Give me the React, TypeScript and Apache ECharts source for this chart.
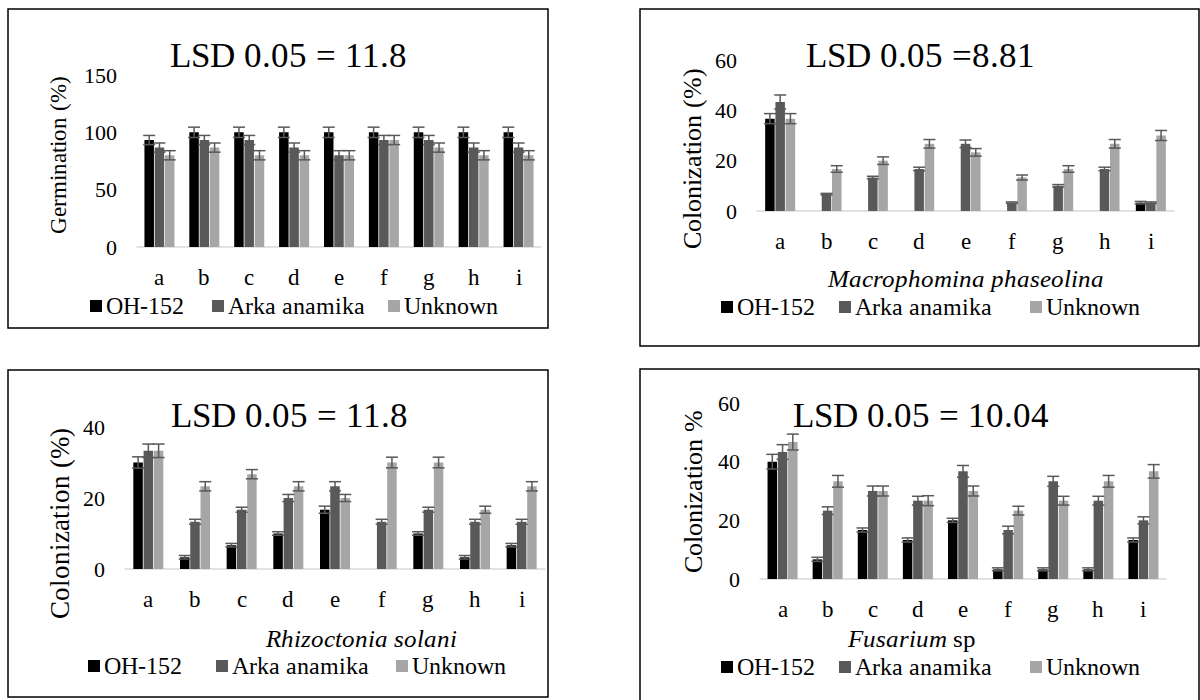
import React, { useEffect, useRef } from 'react';
import * as echarts from 'echarts';

const FONT = 'LSerifLocal, Liberation Serif, Times New Roman, serif';

const categories = ['a', 'b', 'c', 'd', 'e', 'f', 'g', 'h', 'i'];
const seriesNames = ['OH-152', 'Arka anamika', 'Unknown'];
const seriesColors = ['#000000', '#595959', '#a6a6a6'];

// Panel 1: Germination (%)
const germOH = [93.3, 100, 100, 100, 100, 100, 100, 100, 100];
const germArka = [86.7, 93.3, 93.3, 86.7, 80, 93.3, 93.3, 86.7, 86.7];
const germUnknown = [80, 86.7, 80, 80, 80, 93.3, 86.7, 80, 80];
const germErrOH = [4, 4.5, 4.5, 4.5, 4.5, 4.5, 4.5, 4.5, 4.5];
const germErrArka = [4, 4, 4, 4, 4, 4, 4, 4, 4];
const germErrUnknown = [4, 4, 4, 4, 4, 4, 4, 4, 4];

// Panel 2: Macrophomina phaseolina colonization (%)
const macOH = [36.7, 0, 0, 0, 0, 0, 0, 0, 3.3];
const macArka = [43.3, 6.7, 13.3, 16.7, 26.7, 3.3, 10, 16.7, 3.3];
const macUnknown = [36.7, 16.7, 20, 26.7, 23.3, 13.3, 16.7, 26.7, 30];
const macErrOH = [2, 0, 0, 0, 0, 0, 0, 0, 0.5];
const macErrArka = [2.8, 0.3, 0.5, 0.7, 1.5, 0.3, 0.5, 0.7, 0.3];
const macErrUnknown = [2, 1.3, 1.5, 1.7, 1.5, 1, 1.3, 1.7, 2];

// Panel 3: Rhizoctonia solani colonization (%)
const rhiOH = [30, 3.3, 6.7, 10, 16.7, 0, 10, 3.3, 6.7];
const rhiArka = [33.3, 13.3, 16.7, 20, 23.3, 13.3, 16.7, 13.3, 13.3];
const rhiUnknown = [33.3, 23.3, 26.7, 23.3, 20, 30, 30, 16.7, 23.3];
const rhiErrOH = [1.6, 0.5, 0.5, 0.5, 1, 0, 0.5, 0.5, 0.5];
const rhiErrArka = [1.9, 0.7, 0.7, 1, 1.3, 0.7, 0.7, 0.7, 0.7];
const rhiErrUnknown = [1.9, 1.3, 1.3, 1.3, 1, 1.5, 1.5, 1, 1.3];

// Panel 4: Fusarium sp colonization %
const fusOH = [40, 6.7, 16.7, 13.3, 20, 3.3, 3.3, 3.3, 13.3];
const fusArka = [43.3, 23.3, 30, 26.7, 36.7, 16.7, 33.3, 26.7, 20];
const fusUnknown = [46.7, 33.3, 30, 26.7, 30, 23.3, 26.7, 33.3, 36.7];
const fusErrOH = [2.5, 0.7, 0.7, 0.7, 0.7, 0.5, 0.5, 0.5, 0.7];
const fusErrArka = [2.5, 1.3, 1.7, 1.5, 2, 1.3, 1.7, 1.5, 1.2];
const fusErrUnknown = [2.7, 2, 1.7, 1.7, 1.7, 1.5, 1.5, 2, 2.3];

// Axis ranges
const yMaxes = [150, 60, 40, 60];
const yIntervals = [50, 20, 20, 20];

// Text
const titles = ['LSD 0.05 = 11.8', 'LSD 0.05 =8.81', 'LSD 0.05 = 11.8', 'LSD 0.05 = 10.04'];
const yNames = ['Germination (%)', 'Colonization (%)', 'Colonization (%)', 'Colonization %'];

const panelValues = [
  [germOH, germArka, germUnknown],
  [macOH, macArka, macUnknown],
  [rhiOH, rhiArka, rhiUnknown],
  [fusOH, fusArka, fusUnknown],
];
const panelErrors = [
  [germErrOH, germErrArka, germErrUnknown],
  [macErrOH, macErrArka, macErrUnknown],
  [rhiErrOH, rhiErrArka, rhiErrUnknown],
  [fusErrOH, fusErrArka, fusErrUnknown],
];

// Layout (pixels)
const layouts = [
  { box: [8, 9, 540, 319], grid: [137, 75, 404, 172], title: [288, 55], yName: [58, 155, 23], legend: [[90, 212, 388], 307] },
  { box: [640, 9, 559, 337], grid: [757, 60, 417, 151], title: [920, 55], yName: [692, 158, 26], legend: [[721, 839, 1030], 308] },
  { box: [8, 370, 540, 327], grid: [125, 427, 420, 142], title: [289, 415], yName: [60, 523, 27], legend: [[88, 216, 396], 667] },
  { box: [640, 369, 559, 340], grid: [760, 403, 406, 176], title: [921, 415], yName: [693, 491, 26], legend: [[721, 839, 1030], 668] },
];

const BAR_W = 9.5;
const BAR_GAP = 0.08;
const STEP = BAR_W * (1 + BAR_GAP);
const offsets = [-STEP, 0, STEP];

function errRender(offset: number) {
  return (_params: any, api: any) => {
    const idx = api.value(0);
    const v = api.value(1);
    const e = api.value(2);
    if (!e) return { type: 'group', children: [] };
    const top = api.coord([idx, v + e]);
    const bot = api.coord([idx, v - e]);
    const x = top[0] + offset;
    const hw = 6;
    const style = { stroke: '#595959', lineWidth: 1.5 };
    return {
      type: 'group',
      children: [
        { type: 'line', shape: { x1: x, y1: top[1], x2: x, y2: bot[1] }, style },
        { type: 'line', shape: { x1: x - hw, y1: top[1], x2: x + hw, y2: top[1] }, style },
        { type: 'line', shape: { x1: x - hw, y1: bot[1], x2: x + hw, y2: bot[1] }, style },
      ],
    };
  };
}

function txt(x: number, y: number, text: string, fontSize: number, extra: any = {}, rotation = 0) {
  return {
    type: 'text',
    x,
    y,
    rotation,
    style: {
      text,
      fontFamily: FONT,
      fontSize,
      fill: '#000',
      align: 'center',
      verticalAlign: 'middle',
      ...extra,
    },
  };
}

function buildOption() {
  const grid: any[] = [];
  const xAxis: any[] = [];
  const yAxis: any[] = [];
  const series: any[] = [];
  const legend: any[] = [];
  const graphic: any[] = [];

  layouts.forEach((L, p) => {
    const [gl, gt, gw, gh] = L.grid;
    grid.push({ left: gl, top: gt, width: gw, height: gh, containLabel: false });
    xAxis.push({
      type: 'category',
      gridIndex: p,
      data: categories,
      axisLine: { lineStyle: { color: '#d9d9d9', width: 1.5 } },
      axisTick: { show: false },
      axisLabel: { margin: 19, fontSize: 23, fontFamily: FONT, color: '#000' },
    });
    yAxis.push({
      type: 'value',
      gridIndex: p,
      min: 0,
      max: yMaxes[p],
      interval: yIntervals[p],
      axisLine: { show: false },
      axisTick: { show: false },
      splitLine: { show: false },
      axisLabel: { margin: 20, fontSize: 22, fontFamily: FONT, color: '#000' },
    });
    seriesNames.forEach((name, s) => {
      series.push({
        type: 'bar',
        name,
        xAxisIndex: p,
        yAxisIndex: p,
        data: panelValues[p][s],
        barWidth: BAR_W,
        barGap: `${BAR_GAP * 100}%`,
        itemStyle: { color: seriesColors[s] },
        z: 2,
      });
    });
    seriesNames.forEach((_name, s) => {
      series.push({
        type: 'custom',
        name: 'error',
        xAxisIndex: p,
        yAxisIndex: p,
        silent: true,
        z: 5,
        encode: { x: 0, y: 1 },
        data: panelValues[p][s].map((v, i) => [i, v, panelErrors[p][s][i]]),
        renderItem: errRender(offsets[s]),
      });
    });
    const [lxs, ly] = L.legend as [number[], number];
    seriesNames.forEach((name, s) => {
      legend.push({
        data: [name],
        left: lxs[s],
        top: ly - 13,
        icon: 'rect',
        itemWidth: 12,
        itemHeight: 12,
        padding: 0,
        selectedMode: false,
        textStyle: { fontFamily: FONT, fontSize: 24, color: '#000', padding: [0, 0, 0, -1] },
      });
    });
    const [bx, by, bw, bh] = L.box;
    graphic.push({
      type: 'rect',
      silent: true,
      shape: { x: bx, y: by, width: bw, height: bh },
      style: { fill: 'none', stroke: '#000', lineWidth: 1.5 },
    });
    graphic.push(txt(L.title[0], L.title[1], titles[p], 35));
    graphic.push(txt(L.yName[0], L.yName[1], yNames[p], L.yName[2], {}, Math.PI / 2));
  });

  graphic.push(txt(966, 278, 'Macrophomina phaseolina', 25, { fontStyle: 'italic' }));
  graphic.push(txt(361, 638, 'Rhizoctonia solani', 25, { fontStyle: 'italic' }));
  graphic.push(txt(947, 638, 'Fusarium', 25, { fontStyle: 'italic', align: 'right' }));
  graphic.push(txt(947, 638, ' sp', 25, { align: 'left' }));

  return {
    animation: false,
    textStyle: { fontFamily: FONT },
    grid,
    xAxis,
    yAxis,
    series,
    legend,
    graphic,
  };
}

function loadLocalSerif(): Promise<any> {
  try {
    const FF: any = (window as any).FontFace;
    const fonts: any = (document as any).fonts;
    if (!FF || !fonts) return Promise.resolve();
    const regular = new FF(
      'LSerifLocal',
      "local('Liberation Serif'), local('LiberationSerif'), local('Times New Roman')",
      { style: 'normal', weight: '400' }
    );
    const italic = new FF(
      'LSerifLocal',
      "local('Liberation Serif Italic'), local('LiberationSerif-Italic'), local('Times New Roman Italic')",
      { style: 'italic', weight: '400' }
    );
    const ps = [regular, italic].map((f: any) =>
      f.load().then((loaded: any) => fonts.add(loaded)).catch(() => undefined)
    );
    return Promise.all(ps);
  } catch (e) {
    return Promise.resolve();
  }
}

export default function App() {
  const ref = useRef<HTMLDivElement>(null);
  useEffect(() => {
    document.body.style.margin = '0';
    let chart: any = null;
    let cancelled = false;
    const start = () => {
      if (cancelled || !ref.current) return;
      chart = echarts.init(ref.current, undefined, { renderer: 'svg' });
      chart.setOption(buildOption() as any);
    };
    loadLocalSerif().then(start, start);
    return () => {
      cancelled = true;
      if (chart) chart.dispose();
    };
  }, []);
  return (
    <div style={{ width: 1200, height: 700, background: '#ffffff' }}>
      <div ref={ref} style={{ width: 1200, height: 700 }} />
    </div>
  );
}
